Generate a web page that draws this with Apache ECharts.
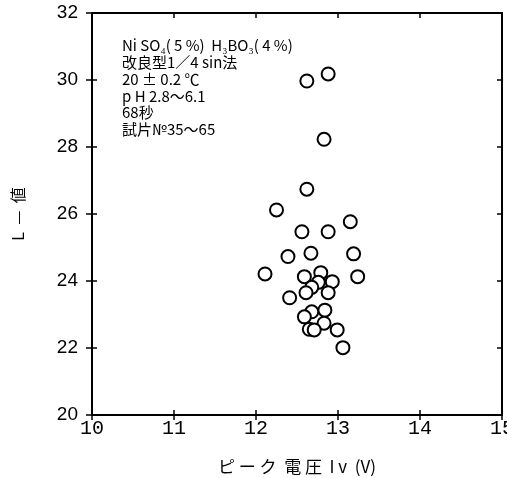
<!DOCTYPE html>
<html>
<head>
<meta charset="utf-8">
<script src="https://cdn.jsdelivr.net/npm/echarts@6/dist/echarts.min.js"></script>
<style>
  html, body { margin: 0; padding: 0; background: #fff; }
  #chart { width: 507px; height: 478px; }
</style>
</head>
<body>
<div id="chart"></div>
<script>
// ピーク電圧 Iv (V) と L値 の読み取り値
var peakV = [12.62, 12.88, 12.83, 12.62, 12.25, 13.15, 12.56, 12.88, 12.39, 12.67,
             13.19, 12.11, 12.59, 12.79, 12.93, 12.76, 12.68, 13.24, 12.61, 12.88,
             12.41, 12.84, 12.68, 12.59, 12.83, 12.65, 12.71, 12.99, 13.06];
var lValue = [29.97, 30.18, 28.23, 26.74, 26.12, 25.77, 25.47, 25.47, 24.73, 24.83,
              24.81, 24.21, 24.13, 24.25, 23.98, 23.96, 23.81, 24.13, 23.65, 23.65,
              23.50, 23.13, 23.08, 22.93, 22.74, 22.56, 22.54, 22.54, 22.01];
var noteLines = [
    'Ni SO\u2084( 5 %)  H\u2083BO\u2083( 4 %)',
    '改良型1／4 sin法',
    '20 ± 0.2 ℃',
    'p H 2.8〜6.1',
    '68秒',
    '試片№35〜65'
];

var points = peakV.map(function (v, i) { return [v, lValue[i]]; });

var chart = echarts.init(document.getElementById('chart'));
var lineStyle = { color: '#000', width: 2 };
var tickIn = { show: true, inside: true, length: 5, lineStyle: { color: '#000', width: 1.5 } };

chart.setOption({
    animation: false,
    grid: { left: 92, right: 5, top: 13, bottom: 63, outerBoundsMode: 'none', containLabel: false },
    xAxis: [
        {
            type: 'value', min: 10, max: 15, interval: 1, position: 'bottom',
            name: 'ピ ー ク  電 圧  I v  (V)', nameLocation: 'middle', nameGap: 43,
            nameTextStyle: { color: '#000', fontSize: 17, fontFamily: 'Noto Sans CJK JP' },
            axisLine: { show: true, lineStyle: lineStyle },
            axisTick: { show: true, inside: false, length: 5, lineStyle: { color: '#000', width: 1.5 } },
            axisLabel: { color: '#000', fontSize: 20, fontFamily: 'Liberation Mono', margin: 4 },
            splitLine: { show: false }
        },
        {
            type: 'value', min: 10, max: 15, interval: 1, position: 'bottom',
            axisLine: { show: false }, axisTick: tickIn, axisLabel: { show: false }, splitLine: { show: false }
        },
        {
            type: 'value', min: 10, max: 15, interval: 1, position: 'top',
            axisLine: { show: true, lineStyle: lineStyle }, axisTick: tickIn,
            axisLabel: { show: false }, splitLine: { show: false }
        }
    ],
    yAxis: [
        {
            type: 'value', min: 20, max: 32, interval: 2, position: 'left',
            name: 'L  —  値', nameLocation: 'middle', nameGap: 66, nameRotate: 90,
            nameTextStyle: { color: '#000', fontSize: 16, fontFamily: 'Noto Sans CJK JP' },
            axisLine: { show: true, lineStyle: lineStyle },
            axisTick: { show: true, inside: false, length: 6, lineStyle: { color: '#000', width: 1.5 } },
            axisLabel: { color: '#000', fontSize: 19, fontFamily: 'Liberation Sans', margin: 14 },
            splitLine: { show: false }
        },
        {
            type: 'value', min: 20, max: 32, interval: 2, position: 'left',
            axisLine: { show: false }, axisTick: tickIn, axisLabel: { show: false }, splitLine: { show: false }
        },
        {
            type: 'value', min: 20, max: 32, interval: 2, position: 'right',
            axisLine: { show: true, lineStyle: lineStyle }, axisTick: tickIn,
            axisLabel: { show: false }, splitLine: { show: false }
        }
    ],
    graphic: [{
        type: 'text', left: 122, top: 37,
        style: {
            text: noteLines.join('\n'),
            fill: '#000',
            font: '15px "Noto Sans CJK JP"',
            lineHeight: 16.8
        }
    }],
    series: [{
        type: 'scatter',
        xAxisIndex: 0, yAxisIndex: 0,
        symbol: 'circle',
        symbolSize: 13,
        itemStyle: { color: '#fff', borderColor: '#000', borderWidth: 2, opacity: 1 },
        data: points
    }]
});
</script>
</body>
</html>
